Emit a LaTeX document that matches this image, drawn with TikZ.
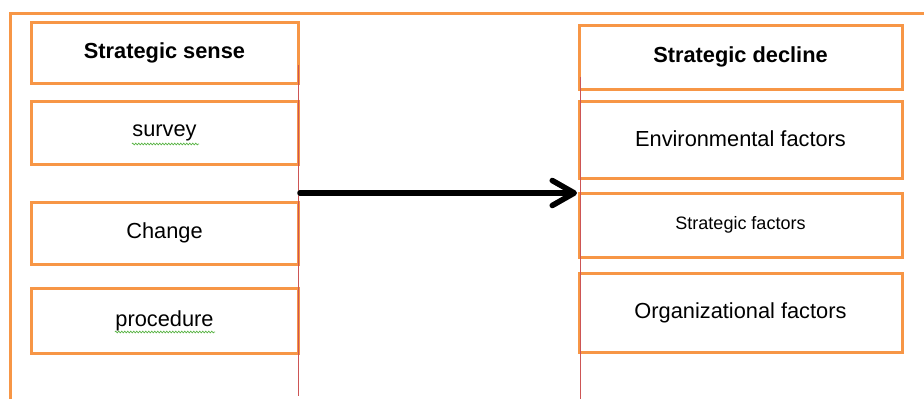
\documentclass[tikz,border=0pt]{standalone}
\usepackage{fontspec}
\setmainfont{Liberation Sans}
\usetikzlibrary{arrows.meta,decorations.pathmorphing}
\definecolor{orangeC}{RGB}{247,150,70}
\definecolor{redline}{RGB}{205,85,85}
\definecolor{squig}{RGB}{90,180,70}
\tikzset{
  box/.style={draw=orangeC, line width=3pt, inner sep=0pt, align=center,
    font=\fontsize{21.8}{26}\selectfont},
  lbox/.style={box, minimum width=267pt},
  rbox/.style={box, minimum width=323pt},
  head/.style={font=\fontsize{21.8}{26}\selectfont\bfseries},
  guide/.style={draw=redline, line width=0.8pt},
  squiggle/.style={draw=squig, line width=0.7pt, decorate,
    decoration={zigzag, amplitude=0.9pt, segment length=3pt}},
  mainarrow/.style={line width=5.5pt, line cap=round,
    -{Straight Barb[length=22pt,width=25pt,round]}},
}
\begin{document}
\begin{tikzpicture}[x=1pt,y=-1pt]
\useasboundingbox (0,0) rectangle (924,399);
% outer frame
\draw[orangeC, line width=3pt] (10,399) -- (10,13) -- (924,13);
% left column
\node[lbox, minimum height=61pt, head] (l1) at (164.5,52.5) {Strategic sense};
\node[lbox, minimum height=63pt] (l2) at (164.5,132.5) {survey};
\node[lbox, minimum height=62pt] (l3) at (164.5,233) {Change};
\node[lbox, minimum height=65pt] (l4) at (164.5,320.5) {procedure};
% right column
\node[rbox, minimum height=64pt, head] (r1) at (740.5,57) {Strategic decline};
\node[rbox, minimum height=77pt] (r2) at (740.5,139.5) {\raisebox{2pt}{Environmental factors}};
\node[rbox, minimum height=64pt, font=\fontsize{18}{21}\selectfont] (r3) at (740.5,225) {\raisebox{-1.5pt}{Strategic factors}};
\node[rbox, minimum height=79pt] (r4) at (740.5,312.5) {Organizational factors};
% thin red guide lines
\coordinate (g1a) at (298,65);
\coordinate (g1b) at (298,396);
\coordinate (g2a) at (580,77);
\coordinate (g2b) at (580,399);
\draw[guide] (g1a) -- (g1b);
\draw[guide] (g2a) -- (g2b);
% spell-check squiggles
\coordinate (s1a) at (132,144);
\coordinate (s1b) at (199,144);
\coordinate (s2a) at (115,332);
\coordinate (s2b) at (215,332);
\draw[squiggle] (s1a) -- (s1b);
\draw[squiggle] (s2a) -- (s2b);
% arrow
\coordinate (as) at (300,193);
\coordinate (ae) at (577,193);
\draw[mainarrow, draw=black!22, shift={(2pt,-3pt)}] (as) -- (ae);
\draw[mainarrow] (as) -- (ae);
\end{tikzpicture}
\end{document}
